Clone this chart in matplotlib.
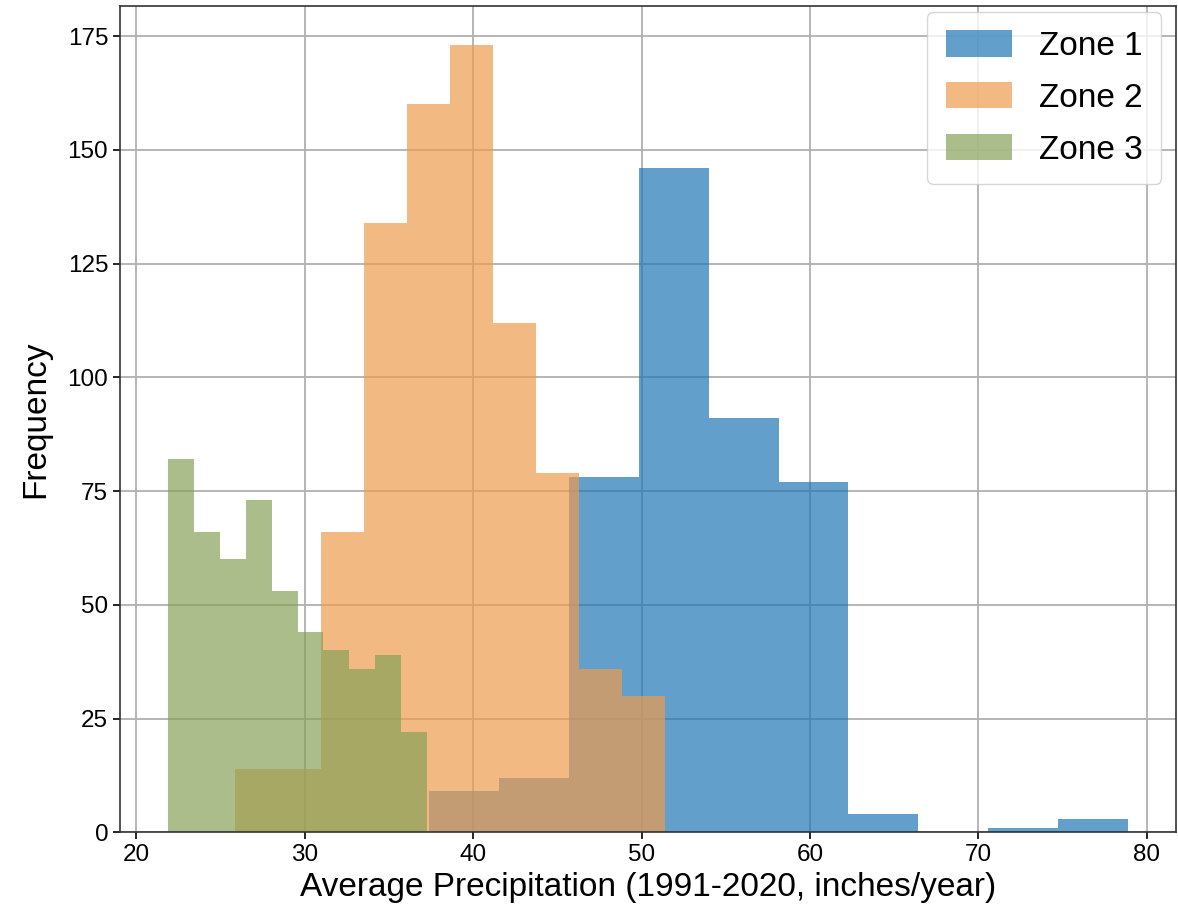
import numpy as np
import matplotlib
matplotlib.use("Agg")
from matplotlib import pyplot as plt

plt.rcParams['font.family'] = ['Liberation Sans', 'DejaVu Sans']

# counts per bin, 10 equal-width bins between each zone's min and max
zones = ["Zone 1", "Zone 2", "Zone 3"]
zone1_range = (37.38, 78.88)
zone1_counts = [9, 12, 78, 146, 91, 77, 4, 0, 1, 3]
zone2_range = (25.88, 51.38)
zone2_counts = [14, 14, 66, 134, 160, 173, 112, 79, 36, 30]
zone3_range = (21.88, 37.26)
zone3_counts = [82, 66, 60, 73, 53, 44, 40, 36, 39, 22]

colors = ["#1f77b4", "#ee9c4e", "#87a158"]

fig = plt.figure(figsize=(11.78, 9.17), dpi=100)
ax = fig.add_axes([0.1019, 0.0924, 0.8964, 0.9011])
ax.set_axisbelow(True)
ax.grid(True, color="#b0b0b0", linewidth=1.3)

for name, rng, counts, col in zip(zones,
                                  [zone1_range, zone2_range, zone3_range],
                                  [zone1_counts, zone2_counts, zone3_counts],
                                  colors):
    edges = np.linspace(rng[0], rng[1], len(counts) + 1)
    ax.hist(edges[:-1], bins=edges, weights=counts, color=col, alpha=0.7, label=name)

ax.set_xticks([20, 30, 40, 50, 60, 70, 80])
ax.set_yticks([0, 25, 50, 75, 100, 125, 150, 175])
ax.tick_params(labelsize=17.5, length=5, width=1.2)
for s in ax.spines.values():
    s.set_linewidth(1.2)
    s.set_color("#333333")

ax.set_xlabel("Average Precipitation (1991-2020, inches/year)", fontsize=24, labelpad=4)
ax.set_ylabel("Frequency", fontsize=24, labelpad=12)
ax.legend(loc="upper right", bbox_to_anchor=(0.986, 0.993), borderaxespad=0,
          fontsize=24, labelspacing=0.6, borderpad=0.55, handleheight=0.85)

plt.savefig("out.png", dpi=100)
